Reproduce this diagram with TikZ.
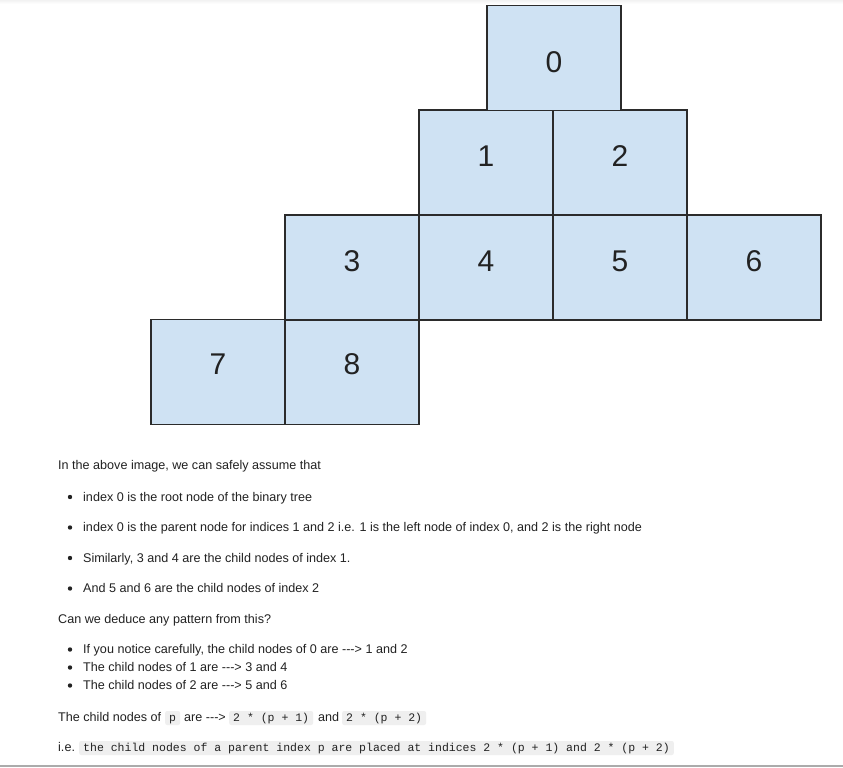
\documentclass[tikz,border=0pt]{standalone}
\usepackage{fontspec}
\setmainfont{Liberation Sans}[Ligatures=TeXOff]
\setmonofont{Liberation Mono}
\definecolor{boxblue}{HTML}{CFE2F3}
\definecolor{boxline}{HTML}{2B2B2B}
\definecolor{codebg}{HTML}{EFEFEF}
\definecolor{txt}{HTML}{222222}
\begin{document}
\begin{tikzpicture}[x=1pt,y=-1pt,
  cell/.style={draw=boxline,line width=1.5pt,fill=boxblue,minimum width=134pt,minimum height=105pt,inner sep=0pt},
  digit/.style={inner sep=0pt,font=\fontsize{30}{30}\selectfont,text=txt},
  para/.style={anchor=base west,inner sep=0pt,font=\fontsize{12.6}{14}\selectfont,text=txt},
  code/.style={anchor=base west,fill=codebg,rounded corners=2pt,inner xsep=4pt,inner ysep=0pt,text height=10pt,text depth=4pt,font=\ttfamily\fontsize{11.5}{14}\selectfont,text=txt},
  bulletdot/.style={circle,fill=txt,inner sep=0pt,minimum size=4.4pt}]
\useasboundingbox (0,0) rectangle (843,768);
\fill[white] (0,0) rectangle (843,768);
\shade[top color=black!5,bottom color=white] (0,0) rectangle (843,4);
% cells
\node[cell] (c7) at (218,372) {};
\node[cell] (c8) at (352,372) {};
\node[cell] (c3) at (352,267.5) {};
\node[cell] (c4) at (486,267.5) {};
\node[cell] (c5) at (620,267.5) {};
\node[cell] (c6) at (754,267.5) {};
\node[cell] (c1) at (486,162.5) {};
\node[cell] (c2) at (620,162.5) {};
\node[cell] (c0) at (554,58) {};
\node[digit] (d0) at ([yshift=-4.5pt]c0.center) {0};
\node[digit] (d1) at ([yshift=6pt]c1.center) {1};
\node[digit] (d2) at ([yshift=6pt]c2.center) {2};
\node[digit] (d3) at ([yshift=6.5pt]c3.center) {3};
\node[digit] (d4) at ([yshift=6.5pt]c4.center) {4};
\node[digit] (d5) at ([yshift=6.5pt]c5.center) {5};
\node[digit] (d6) at ([yshift=6.5pt]c6.center) {6};
\node[digit] (d7) at ([yshift=8pt]c7.center) {7};
\node[digit] (d8) at ([yshift=8pt]c8.center) {8};
% text
\node[para] (t0) at (58,469.5) {In the above image, we can safely assume that};
\node[bulletdot] (b1) at (70,497) {};
\node[para] (t1) at (83,501) {index 0 is the root node of the binary tree};
\node[bulletdot] (b2) at (70,527.5) {};
\node[para] (t2) at (83,531.5) {index 0 is the parent node for indices 1 and 2 i.e. 1 is the left node of index 0, and 2 is the right node};
\node[bulletdot] (b3) at (70,558) {};
\node[para] (t3) at (83,562) {Similarly, 3 and 4 are the child nodes of index 1.};
\node[bulletdot] (b4) at (70,588.5) {};
\node[para] (t4) at (83,592.5) {And 5 and 6 are the child nodes of index 2};
\node[para] (t5) at (58,623) {Can we deduce any pattern from this?};
\node[bulletdot] (b5) at (70,649.5) {};
\node[para] (t6) at (83,653.5) {If you notice carefully, the child nodes of 0 are -{}-{}-> 1 and 2};
\node[bulletdot] (b6) at (70,667.5) {};
\node[para] (t7) at (83,671.5) {The child nodes of 1 are -{}-{}-> 3 and 4};
\node[bulletdot] (b7) at (70,685.5) {};
\node[para] (t8) at (83,689.5) {The child nodes of 2 are -{}-{}-> 5 and 6};
\node[para] (t9) at (58,721) {The child nodes of};
\node[code] (k1) at (165,721) {p};
\node[para] (t10) at (184,721) {are -{}-{}->};
\node[code] (k2) at (229,721) {2 * (p + 1)};
\node[para] (t11) at (318,721) {and};
\node[code] (k3) at (342,721) {2 * (p + 2)};
\node[para] (t12) at (58,751) {i.e.};
\node[code] (k4) at (79,751) {the child nodes of a parent index p are placed at indices 2 * (p + 1) and 2 * (p + 2)};
\fill[black!33] (0,765) rectangle (843,767);
\end{tikzpicture}
\end{document}
